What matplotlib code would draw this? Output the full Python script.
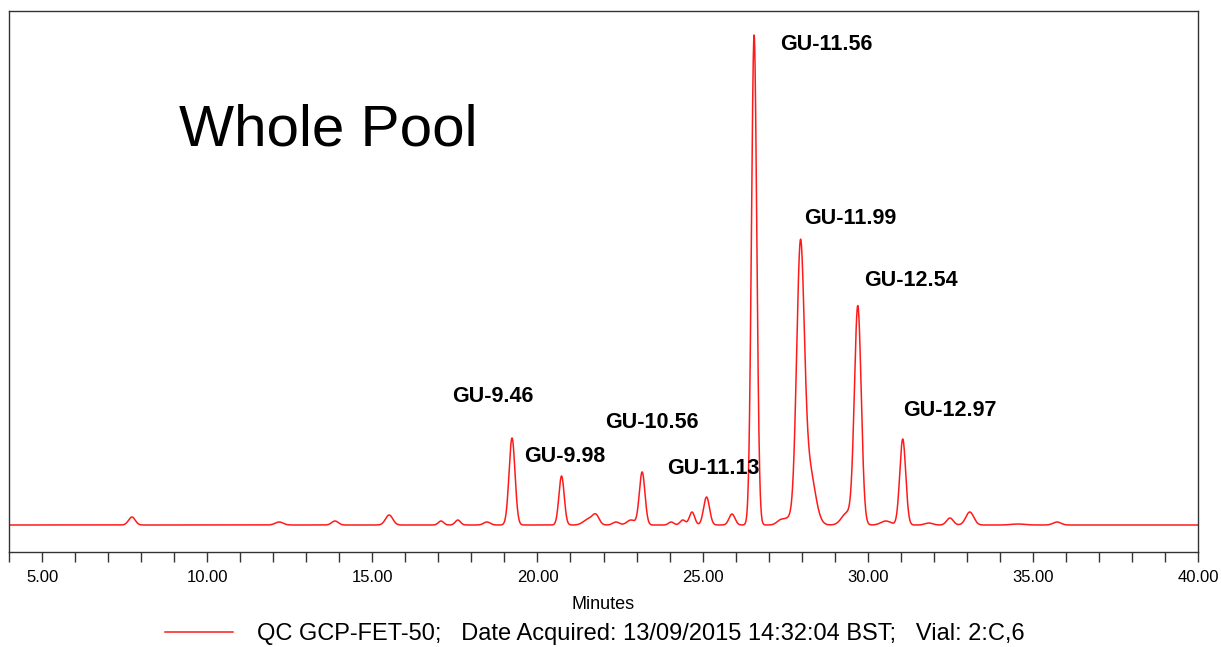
import numpy as np
import matplotlib
matplotlib.use('Agg')
import matplotlib.pyplot as plt
from matplotlib.ticker import MultipleLocator

plt.rcParams['font.family'] = ['Liberation Sans', 'DejaVu Sans']

# ---- Data (retention time in minutes, height in detector units) ----
peak_rt = [7.72, 12.18, 13.87, 15.51, 17.08, 17.59, 18.47, 19.23, 20.73, 21.55,
           21.77, 22.38, 22.83, 23.17, 24.05, 24.40, 24.68, 25.12, 25.89, 26.56,
           27.37, 27.62, 27.96, 28.22, 29.37, 29.70, 30.55, 31.06, 31.85, 32.49,
           33.09, 34.55, 35.73]
peak_height = [8, 3, 4, 10, 4, 5, 3, 87, 49, 6,
               9, 3, 5, 53, 3, 5, 13, 28, 11, 490,
               5, 6, 265, 57, 12, 218, 4, 86, 2, 7,
               13, 1, 3]
peak_sigma = [0.10, 0.12, 0.10, 0.11, 0.08, 0.08, 0.10, 0.09, 0.08, 0.15,
              0.10, 0.10, 0.12, 0.085, 0.08, 0.08, 0.08, 0.09, 0.09, 0.08,
              0.12, 0.12, 0.115, 0.18, 0.16, 0.103, 0.15, 0.09, 0.12, 0.10,
              0.12, 0.20, 0.12]

label_text = ['GU-9.46', 'GU-9.98', 'GU-10.56', 'GU-11.13',
              'GU-11.56', 'GU-11.99', 'GU-12.54', 'GU-12.97']
label_x = [18.64, 20.83, 23.47, 25.31, 28.75, 29.46, 31.32, 32.50]
label_y = [128, 68, 102, 56, 480, 306, 245, 115]

x_ticks = [5, 10, 15, 20, 25, 30, 35, 40]
x_tick_labels = ['5.00', '10.00', '15.00', '20.00', '25.00', '30.00', '35.00', '40.00']

legend_text = 'QC GCP-FET-50;   Date Acquired: 13/09/2015 14:32:04 BST;   Vial: 2:C,6'
title_text = 'Whole Pool'

# ---- Figure ----
W, H = 1221, 647
fig = plt.figure(figsize=(W / 100, H / 100), dpi=100)
ax = fig.add_axes([9 / W, 1 - 552 / H, (1198 - 9) / W, (552 - 11) / H])

t = np.linspace(4.0, 40.0, 8000)
signal = np.zeros_like(t)
for rt, h, s in zip(peak_rt, peak_height, peak_sigma):
    signal += h * np.exp(-0.5 * ((t - rt) / s) ** 2)

line, = ax.plot(t, signal, color='#ff1a1a', lw=1.1, label=legend_text)

ax.set_xlim(4.0, 40.0)
ax.set_ylim(-27, 514)
ax.set_yticks([])
ax.set_xticks(x_ticks)
ax.set_xticklabels(x_tick_labels, fontsize=12)
ax.xaxis.set_minor_locator(MultipleLocator(1))
ax.tick_params(axis='x', which='both', direction='out', length=7, width=1,
               color='#333333', pad=6)
for sp in ax.spines.values():
    sp.set_color('#333333')
    sp.set_linewidth(1)

ax.set_xlabel('Minutes', fontsize=13, labelpad=8)

for txt, lx, ly in zip(label_text, label_x, label_y):
    ax.text(lx, ly, txt, ha='center', va='center', fontsize=15.5, fontweight='bold')

fig.text(179 / W, 1 - 146 / H, title_text, fontsize=42, ha='left', va='baseline')

fig.legend(handles=[line], loc='center left', bbox_to_anchor=(165 / W, 1 - 634 / H),
           frameon=False, fontsize=17, handlelength=2.9, handletextpad=1.0,
           borderpad=0, borderaxespad=0)

fig.savefig('out.png', dpi=100)
